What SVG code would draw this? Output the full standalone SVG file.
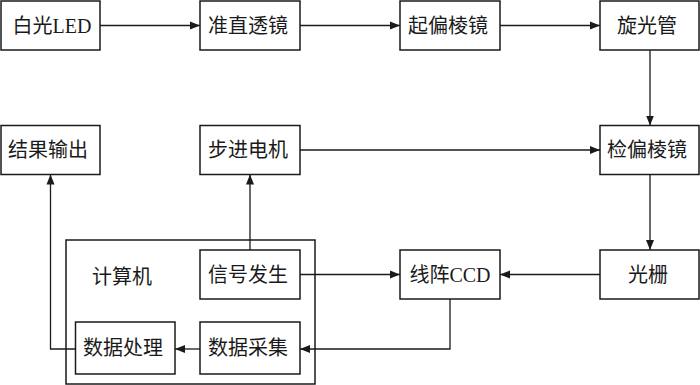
<svg xmlns="http://www.w3.org/2000/svg" width="700" height="385" viewBox="0 0 700 385">
<style>
rect{fill:#fff;stroke:#1a1a1a;stroke-width:1.5}
text{font-family:"Liberation Serif","Noto Sans CJK SC",serif;font-size:20px;fill:#1a1a1a;text-anchor:middle;dominant-baseline:central}
.c path{fill:none;stroke:#1a1a1a;stroke-width:1.3}
</style>
<defs>
<marker id="a" markerWidth="11" markerHeight="11" refX="10" refY="5.5" orient="auto" markerUnits="userSpaceOnUse">
<path d="M0,1.5 L10,5.5 L0,9.5 Z" fill="#1a1a1a"/>
</marker>
</defs>
<g id="computer"><rect x="66" y="240" width="249" height="144"/><text x="122" y="277">计算机</text></g>
<g id="led"><rect x="1" y="1" width="99" height="49"/><text x="52" y="25.5">白光LED</text></g>
<g id="collimator"><rect x="200" y="1" width="100" height="49"/><text x="248" y="25.5">准直透镜</text></g>
<g id="polarizer"><rect x="400" y="1" width="100" height="49"/><text x="448" y="25.5">起偏棱镜</text></g>
<g id="tube"><rect x="600" y="1" width="99" height="49"/><text x="647" y="25.5">旋光管</text></g>
<g id="output"><rect x="1" y="125.5" width="99" height="49"/><text x="48" y="150">结果输出</text></g>
<g id="motor"><rect x="200" y="125.5" width="100" height="49"/><text x="248" y="150">步进电机</text></g>
<g id="analyzer"><rect x="600" y="125.5" width="99" height="49"/><text x="647" y="150">检偏棱镜</text></g>
<g id="signal"><rect x="200" y="250" width="100" height="49"/><text x="248" y="274.5">信号发生</text></g>
<g id="ccd"><rect x="400" y="250" width="100" height="49"/><text x="450" y="274.5">线阵CCD</text></g>
<g id="grating"><rect x="600" y="250" width="99" height="49"/><text x="648" y="274.5">光栅</text></g>
<g id="process"><rect x="75.5" y="322" width="99.5" height="52"/><text x="123" y="348">数据处理</text></g>
<g id="acquire"><rect x="200" y="322" width="100" height="52"/><text x="248" y="348">数据采集</text></g>
<g class="c" id="connectors">
<path d="M100,25.5 H200" marker-end="url(#a)"/>
<path d="M300,25.5 H400" marker-end="url(#a)"/>
<path d="M500,25.5 H600" marker-end="url(#a)"/>
<path d="M650,50 V125.5" marker-end="url(#a)"/>
<path d="M300,150 H600" marker-end="url(#a)"/>
<path d="M650,174.5 V250" marker-end="url(#a)"/>
<path d="M600,274.5 H500" marker-end="url(#a)"/>
<path d="M300,274.5 H400" marker-end="url(#a)"/>
<path d="M250,250 V174.5" marker-end="url(#a)"/>
<path d="M450,299 V349 H300" marker-end="url(#a)"/>
<path d="M200,349 H175" marker-end="url(#a)"/>
<path d="M75.5,349 H50.5 V174.5" marker-end="url(#a)"/>
</g>
</svg>
